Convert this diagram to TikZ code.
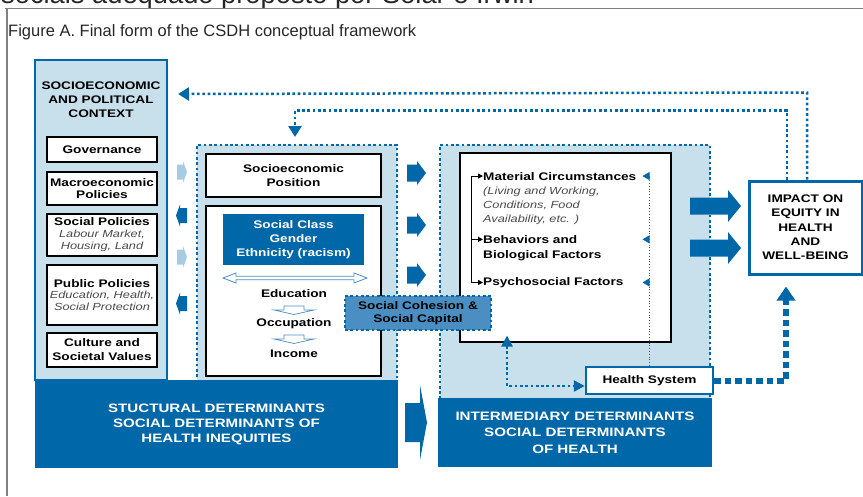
\documentclass[tikz,border=0pt]{standalone}
\usepackage{fontspec}
\setmainfont{Liberation Sans}
\newfontfamily\csdhfont{Liberation Sans}[FakeStretch=1.24]
\usetikzlibrary{arrows.meta}

\definecolor{sdhdark}{HTML}{0068A8}
\definecolor{sdhlight}{HTML}{C8DFEC}
\definecolor{sdhmid}{HTML}{4A8EC2}
\definecolor{sdhpale}{HTML}{A6CBE2}
\definecolor{sdhgray}{HTML}{4A4A4A}
\definecolor{framegray}{HTML}{808080}

\newcommand{\subtxt}{\csdhfont\mdseries\itshape\fontsize{10.3}{12}\selectfont\color{sdhgray}}

\begin{document}
\begin{tikzpicture}[x=1pt, y=-1pt,
    lbl/.style={font=\csdhfont\bfseries\fontsize{11}{14}\selectfont, align=center, inner sep=0pt},
    wbox/.style={lbl, draw=black, line width=1.1pt, fill=white},
    bartext/.style={font=\csdhfont\bfseries\fontsize{12.2}{15}\selectfont, text=white, align=center, inner sep=0pt},
    dotline/.style={draw=sdhdark, line width=2.5pt, dash pattern=on 2.7pt off 2.6pt},
    fbtip/.style={-{Triangle[length=11pt,width=13pt]}},
  ]
  \useasboundingbox (0,0) rectangle (863,496);

  %% page around the figure
  \begin{scope}
    \clip (0,0) rectangle (863,496);
    \node[anchor=base west, inner sep=0pt, text=black!85, font=\fontsize{27.3}{30}\selectfont] (pagetxt) at (1,3) {sociais adequado proposto por Solar e Irwin};
  \end{scope}
  \draw[framegray, line width=1.5pt] (5,8.3) -- (863,8.3);
  \draw[framegray, line width=2pt] (7,8.3) -- (7,496);
  \node[anchor=base west, inner sep=0pt, text=black!85, font=\fontsize{16.5}{18}\selectfont] (title) at (8,36.5) {Figure A. Final form of the CSDH conceptual framework};

  %% feedback loops
  \coordinate (ctxin) at (178,94);
  \coordinate (sdin) at (295,137);

  %% context column
  \node[draw=sdhdark, fill=sdhlight, line width=2pt, minimum width=132pt, minimum height=320pt, inner sep=0pt] (context) at (101,220) {};
  \node[lbl] (contexthead) at (101,99.5) {SOCIOECONOMIC\\AND POLITICAL\\CONTEXT};
  \node[wbox, minimum width=110pt, minimum height=25pt] (gov) at (102,149.5) {Governance};
  \node[wbox, minimum width=110pt, minimum height=33pt, font=\csdhfont\bfseries\fontsize{11}{12.5}\selectfont] (macro) at (102,188.5) {Macroeconomic\\Policies};
  \node[wbox, minimum width=110pt, minimum height=42pt, font=\csdhfont\bfseries\fontsize{11}{12}\selectfont] (socpol) at (102,235) {Social Policies\\{\subtxt Labour Market,}\\{\subtxt Housing, Land}};
  \node[wbox, minimum width=110pt, minimum height=60pt, font=\csdhfont\bfseries\fontsize{11}{11.5}\selectfont] (pubpol) at (102,295) {Public Policies\\{\subtxt Education, Health,}\\{\subtxt Social Protection}};
  \node[wbox, minimum width=110pt, minimum height=34pt] (culture) at (102,350) {Culture and\\Societal Values};

  %% small arrows between context and structural box
  \fill[sdhpale, shift={(0,172)}] (177,-7.5) -- (183,-7.5) -- (183,-11) -- (187,0) -- (183,11) -- (183,7.5) -- (177,7.5) -- cycle;
  \fill[sdhdark, shift={(0,215.5)}] (187,-7.5) -- (180,-7.5) -- (180,-11) -- (176,0) -- (180,11) -- (180,7.5) -- (187,7.5) -- cycle;
  \fill[sdhpale, shift={(0,257)}] (177,-7.5) -- (183,-7.5) -- (183,-11) -- (187,0) -- (183,11) -- (183,7.5) -- (177,7.5) -- cycle;
  \fill[sdhdark, shift={(0,303.5)}] (187,-7.5) -- (180,-7.5) -- (180,-11) -- (176,0) -- (180,11) -- (180,7.5) -- (187,7.5) -- cycle;

  %% structural box
  \node[dotline, fill=sdhlight, minimum width=200pt, minimum height=240pt, inner sep=0pt] (structbox) at (297,265) {};
  \node[wbox, minimum width=175pt, minimum height=43pt] (sepos) at (293.5,175.5) {Socioeconomic\\Position};
  \node[draw=black, line width=1.1pt, fill=white, minimum width=175pt, minimum height=170pt, inner sep=0pt] (sepbox) at (293.5,291) {};
  \node[lbl, fill=sdhdark, text=white, minimum width=141pt, minimum height=51pt] (classbox) at (293.5,239.5) {Social Class\\Gender\\Ethnicity (racism)};
  \draw[sdhmid, fill=white, line width=0.8pt] (223,278) -- (236,273) -- (236,276.3) -- (354,276.3) -- (354,273) -- (367,278) -- (354,283) -- (354,279.7) -- (236,279.7) -- (236,283) -- cycle;
  \node[lbl, anchor=base] (edu) at (294,297) {Education};
  \draw[sdhmid, fill=white, line width=0.7pt] (284,306) -- (304,306) -- (304,310) -- (314,310) -- (294,314.5) -- (274,310) -- (284,310) -- cycle;
  \node[lbl, anchor=base] (occ) at (294,326) {Occupation};
  \draw[sdhmid, fill=white, line width=0.7pt] (284,335) -- (304,335) -- (304,339) -- (314,339) -- (294,343.5) -- (274,339) -- (284,339) -- cycle;
  \node[lbl, anchor=base] (inc) at (294,357) {Income};

  %% intermediary box
  \node[dotline, fill=sdhlight, minimum width=270pt, minimum height=258pt, inner sep=0pt] (interbox) at (575,274) {};
  \node[draw=black, line width=1.1pt, fill=white, minimum width=211pt, minimum height=189pt, inner sep=0pt] (factbox) at (565.5,247.5) {};
  \node[lbl, anchor=base west] (matcirc) at (483,180) {Material Circumstances};
  \node[anchor=base west, inner sep=0pt, font=\subtxt] (living) at (483,194.3) {(Living and Working,};
  \node[anchor=base west, inner sep=0pt, font=\subtxt] (conditions) at (483,208.3) {Conditions, Food};
  \node[anchor=base west, inner sep=0pt, font=\subtxt] (avail) at (483,222.3) {Availability, etc. )};
  \node[lbl, anchor=base west] (behav) at (483,243.3) {Behaviors and};
  \node[lbl, anchor=base west] (biofac) at (483,258.3) {Biological Factors};
  \node[lbl, anchor=base west] (psycho) at (483,285.3) {Psychosocial Factors};
  \draw[line width=1pt] ([xshift=-12pt]matcirc.west) -- ([xshift=-12pt]psycho.west);
  \draw[line width=1pt, -{Triangle[length=5pt,width=5pt]}] ([xshift=-12pt]matcirc.west) -- (matcirc.west);
  \draw[line width=1pt, -{Triangle[length=5pt,width=5pt]}] ([xshift=-12pt]behav.west) -- (behav.west);
  \draw[line width=1pt, -{Triangle[length=5pt,width=5pt]}] ([xshift=-12pt]psycho.west) -- (psycho.west);

  %% bottom bars
  \node[bartext, fill=sdhdark, minimum width=363pt, minimum height=88pt] (structbar) at (216.5,424) {STUCTURAL DETERMINANTS\\SOCIAL DETERMINANTS OF\\HEALTH INEQUITIES};
  \node[bartext, fill=sdhdark, minimum width=274pt, minimum height=69pt, font=\csdhfont\bfseries\fontsize{12.2}{16.5}\selectfont] (interbar) at (575,432.5) {INTERMEDIARY DETERMINANTS\\SOCIAL DETERMINANTS\\OF HEALTH};

  %% arrows structural -> intermediary
  \fill[sdhdark, shift={(0,173)}] (407,-8.5) -- (417,-8.5) -- (417,-12) -- (426,0) -- (417,12) -- (417,8.5) -- (407,8.5) -- cycle;
  \fill[sdhdark, shift={(0,225)}] (407,-8.5) -- (417,-8.5) -- (417,-12) -- (426,0) -- (417,12) -- (417,8.5) -- (407,8.5) -- cycle;
  \fill[sdhdark, shift={(0,275)}] (407,-8.5) -- (417,-8.5) -- (417,-12) -- (426,0) -- (417,12) -- (417,8.5) -- (407,8.5) -- cycle;
  \fill[sdhdark] (405,403) -- (420,403) -- (420,385) -- (427,422.5) -- (420,460) -- (420,442) -- (405,442) -- cycle;

  %% social cohesion
  \node[lbl, dotline, fill=sdhmid, minimum width=146pt, minimum height=34pt, font=\csdhfont\bfseries\fontsize{11}{12.5}\selectfont] (cohesion) at (418,313) {Social Cohesion \&\\Social Capital};

  %% health system
  \node[lbl, draw=sdhdark, line width=2.5pt, fill=white, minimum width=127pt, minimum height=27pt] (hs) at (649.5,380.5) {Health System};
  \draw[sdhdark, line width=0.8pt, dotted] (hs.north) -- (hs.north |- matcirc.west);
  \draw[sdhdark, line width=0.8pt, -{Triangle[length=7pt,width=8pt]}] (hs.north |- matcirc.west) -- ++(-7,0);
  \draw[sdhdark, line width=0.8pt, -{Triangle[length=7pt,width=8pt]}] (hs.north |- behav.west) -- ++(-7,0);
  \draw[sdhdark, line width=0.8pt, -{Triangle[length=7pt,width=8pt]}] (hs.north |- psycho.west) -- ++(-7,0);
  \draw[dotline, fill=none, sdhdark, {Triangle[length=11pt,width=11pt]}-{Triangle[length=11pt,width=11pt]}] ([xshift=-58.5pt,yshift=7pt]factbox.south) |- ([yshift=-5.5pt]hs.west);

  %% impact
  \node[lbl, draw=sdhdark, line width=3pt, fill=white, minimum width=113pt, minimum height=93pt, font=\csdhfont\bfseries\fontsize{11}{14.3}\selectfont] (impact) at (805.5,227.5) {IMPACT ON\\EQUITY IN\\HEALTH\\AND\\WELL-BEING};
  \fill[sdhdark] (690,197.5) -- (728,197.5) -- (728,190) -- (741,206) -- (728,222) -- (728,214.5) -- (690,214.5) -- cycle;
  \fill[sdhdark] (690,239.5) -- (728,239.5) -- (728,232) -- (741,248) -- (728,264) -- (728,256.5) -- (690,256.5) -- cycle;
  \draw[sdhdark, line width=6pt, dash pattern=on 6.5pt off 4pt, -{Triangle[length=14pt,width=18pt]}] (hs.east) -| ([xshift=-19.5pt,yshift=-11pt]impact.south);

  %% feedback to context and structural box
  \draw[dotline, fbtip] ([xshift=1.5pt]impact.north) -- ++(0,-87) -- (ctxin);
  \draw[dotline, fbtip] ([xshift=-18.5pt]impact.north) -- ++(0,-69) -| (sdin);
\end{tikzpicture}
\end{document}
